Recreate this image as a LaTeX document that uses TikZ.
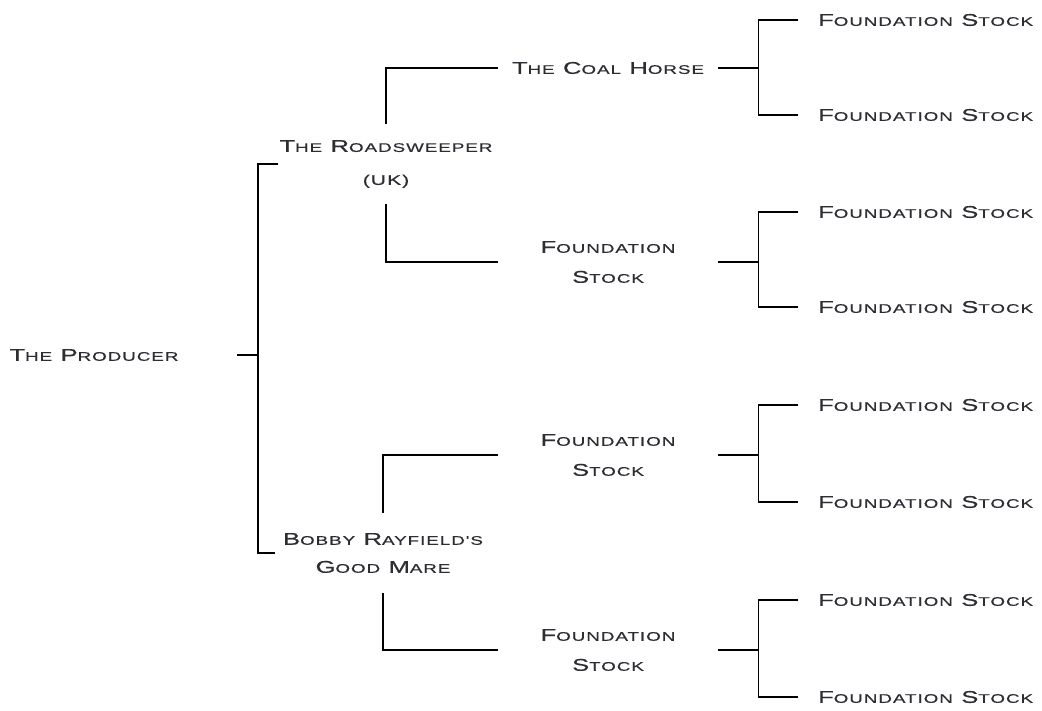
\documentclass[tikz,border=0pt]{standalone}
\usepackage{fontspec}
\newfontfamily\cpfont{Liberation Sans}[FakeStretch=1.5,LetterSpace=8,FakeBold=0.6]
\definecolor{ink}{RGB}{45,45,52}
\newcommand{\sk}[2]{{\fontsize{17}{30}\selectfont #1}{\fontsize{12.5}{30}\selectfont #2}}

\begin{document}
\begin{tikzpicture}[x=1pt,y=-1pt,
  horse/.style={font=\cpfont\fontsize{17}{30}\selectfont, text=ink, align=center, inner sep=0pt},
  sire/.style={horse, minimum width=216pt, minimum height=80pt},
  stock/.style={horse, minimum width=220pt},
  leaf/.style={horse, anchor=west, inner xsep=20pt},
  link/.style={line width=1.3pt, black}]
\useasboundingbox (0,0) rectangle (1042,711);

\node[horse] (prod) at (94,355) {\sk{T}{HE} \sk{P}{RODUCER}};
\coordinate (prodstub) at (237,355);
\coordinate (j0) at (258,355);

\node[sire] (road) at (386,164) {\sk{T}{HE} \sk{R}{OADSWEEPER}\\[3pt]{\fontsize{14}{30}\selectfont (UK)}};
\node[sire] (bobby) at (383,553) {\sk{B}{OBBY} \sk{R}{AYFIELD'S}\\[-2pt]\sk{G}{OOD} \sk{M}{ARE}};

\node[stock] (coal) at (608,68) {\sk{T}{HE} \sk{C}{OAL} \sk{H}{ORSE}};
\node[stock] (rs) at (608,262) {\sk{F}{OUNDATION}\\\sk{S}{TOCK}};
\node[stock] (bs1) at (608,455) {\sk{F}{OUNDATION}\\\sk{S}{TOCK}};
\node[stock] (bs2) at (608,650) {\sk{F}{OUNDATION}\\\sk{S}{TOCK}};

\foreach \y/\n in {20/a,115/b,212/c,307/d,405/e,502/f,600/g,697/h}
  \node[leaf] (\n) at (798,\y) {\sk{F}{OUNDATION} \sk{S}{TOCK}};

\draw[link] (prodstub) -- (j0);
\draw[link] (road.west) -| (j0) |- (bobby.west);
\draw[link] (coal.west) -| (road.north);
\draw[link] (rs.west) -| (road.south);
\draw[link] (bs1.west) -| (bobby.north);
\draw[link] (bs2.west) -| (bobby.south);
\foreach \m/\p/\q in {coal/a/b,rs/c/d,bs1/e/f,bs2/g/h}
  \draw[link] (\p.west) -| ([xshift=40pt]\m.east) |- (\q.west) (\m.east) -- ++(40,0);
\end{tikzpicture}
\end{document}
